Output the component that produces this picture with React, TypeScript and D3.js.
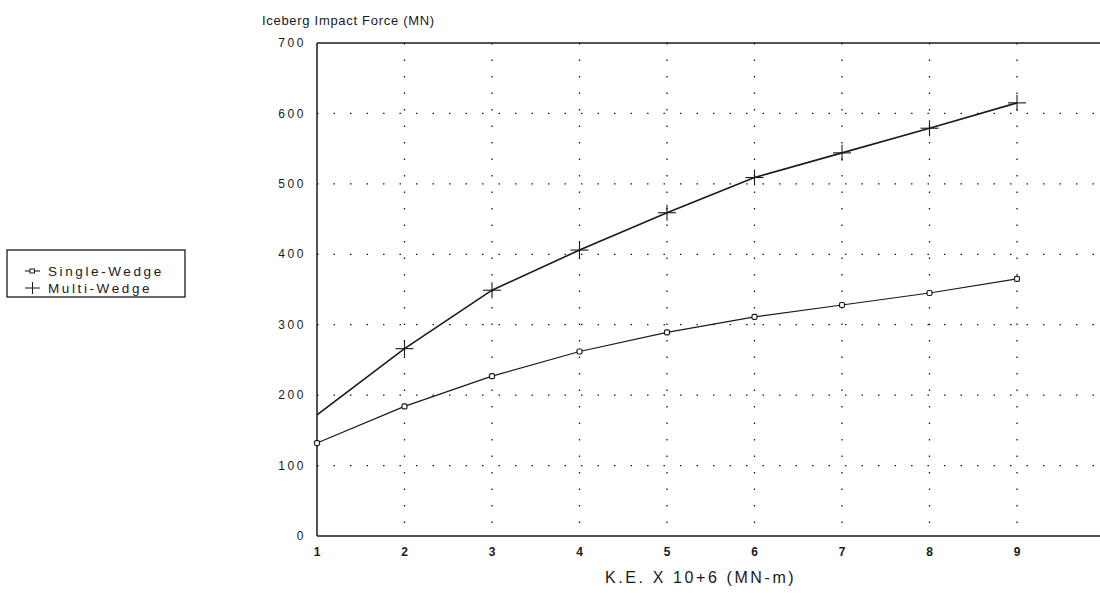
import React from "react";
import * as d3 from "d3";

const keValues = [1, 2, 3, 4, 5, 6, 7, 8, 9];
const singleWedge = [132, 184, 227, 262, 289, 311, 328, 345, 365];
const multiWedge = [172, 266, 349, 406, 459, 509, 544, 579, 615];
const yTicks = [0, 100, 200, 300, 400, 500, 600, 700];
const xTicks = [1, 2, 3, 4, 5, 6, 7, 8, 9];
const seriesNames = ["Single-Wedge", "Multi-Wedge"];
const titleText = "Iceberg Impact Force (MN)";
const xLabelText = "K.E. X 10+6 (MN-m)";

const W = 1100;
const H = 593;
const left = 317;
const right = 1104.5;
const top = 43;
const bottom = 536;
const font = "'Liberation Sans', Arial, sans-serif";
const ink = "#1a1a1a";

export default function App() {
  const x = d3.scaleLinear().domain([1, 10]).range([left, right]);
  const y = d3.scaleLinear().domain([0, 700]).range([bottom, top]);
  const line = d3
    .line<number>()
    .x((_, i) => x(keValues[i]))
    .y((d) => y(d));

  return (
    <svg
      width={W}
      height={H}
      style={{ position: "absolute", left: 0, top: 0, background: "#fff" }}
    >
      {/* grid */}
      {yTicks
        .filter((t) => t > 0 && t < 700)
        .map((t) => (
          <line
            key={"gy" + t}
            x1={left}
            x2={W}
            y1={y(t)}
            y2={y(t)}
            stroke={ink}
            strokeWidth={1.3}
            strokeDasharray="1.5,15"
          />
        ))}
      {xTicks
        .filter((t) => t > 1)
        .map((t) => (
          <line
            key={"gx" + t}
            x1={x(t)}
            x2={x(t)}
            y1={top}
            y2={bottom}
            stroke={ink}
            strokeWidth={1.3}
            strokeDasharray="1.5,15"
          />
        ))}
      {/* frame */}
      <line x1={left} x2={W} y1={top} y2={top} stroke={ink} strokeWidth={1.5} />
      <line x1={left} x2={W} y1={bottom} y2={bottom} stroke={ink} strokeWidth={1.5} />
      <line x1={left} x2={left} y1={top} y2={bottom} stroke={ink} strokeWidth={1.5} />

      {/* y tick labels */}
      {yTicks.map((t) => (
        <text
          key={"yt" + t}
          x={306}
          y={y(t)}
          dy="0.35em"
          textAnchor="end"
          fontFamily={font}
          fontSize={12}
          letterSpacing={2.6}
          fill={ink}
        >
          {t}
        </text>
      ))}
      {/* x tick labels */}
      {xTicks.map((t) => (
        <text
          key={"xt" + t}
          x={x(t)}
          y={556}
          textAnchor="middle"
          fontFamily={font}
          fontSize={12}
          fontWeight="bold"
          fill={ink}
        >
          {t}
        </text>
      ))}

      {/* title and axis label */}
      <text x={262} y={25} fontFamily={font} fontSize={13} letterSpacing={0.7} fill={ink}>
        {titleText}
      </text>
      <text x={605} y={583} fontFamily={font} fontSize={16} letterSpacing={2.6} fill={ink}>
        {xLabelText}
      </text>

      {/* series lines */}
      <path d={line(singleWedge) || ""} fill="none" stroke={ink} strokeWidth={1.2} />
      <path d={line(multiWedge) || ""} fill="none" stroke={ink} strokeWidth={1.6} />

      {/* markers */}
      {singleWedge.map((v, i) => (
        <rect
          key={"sm" + i}
          x={x(keValues[i]) - 2.5}
          y={y(v) - 2.5}
          width={5}
          height={5}
          rx={1.5}
          fill="#fff"
          stroke={ink}
          strokeWidth={1.2}
        />
      ))}
      {multiWedge.map((v, i) =>
        i === 0 ? null : (
          <g key={"mm" + i} stroke={ink} strokeWidth={1.1}>
            <line x1={x(keValues[i]) - 9} x2={x(keValues[i]) + 9} y1={y(v)} y2={y(v)} />
            <line x1={x(keValues[i])} x2={x(keValues[i])} y1={y(v) - 8} y2={y(v) + 8} />
          </g>
        )
      )}

      {/* legend */}
      <rect x={7} y={250} width={178} height={47} fill="#fff" stroke={ink} strokeWidth={1.3} />
      <g>
        <line x1={25} x2={40} y1={271} y2={271} stroke={ink} strokeWidth={1.1} />
        <rect x={30} y={269} width={4.5} height={4} fill="#fff" stroke={ink} strokeWidth={1} />
        <text x={48} y={276} fontFamily={font} fontSize={13.5} letterSpacing={2.6} fill={ink}>
          {seriesNames[0]}
        </text>
        <line x1={25} x2={40} y1={288} y2={288} stroke={ink} strokeWidth={1} />
        <line x1={32.5} x2={32.5} y1={282} y2={294} stroke={ink} strokeWidth={1} />
        <text x={48} y={293} fontFamily={font} fontSize={13.5} letterSpacing={2.6} fill={ink}>
          {seriesNames[1]}
        </text>
      </g>
    </svg>
  );
}
